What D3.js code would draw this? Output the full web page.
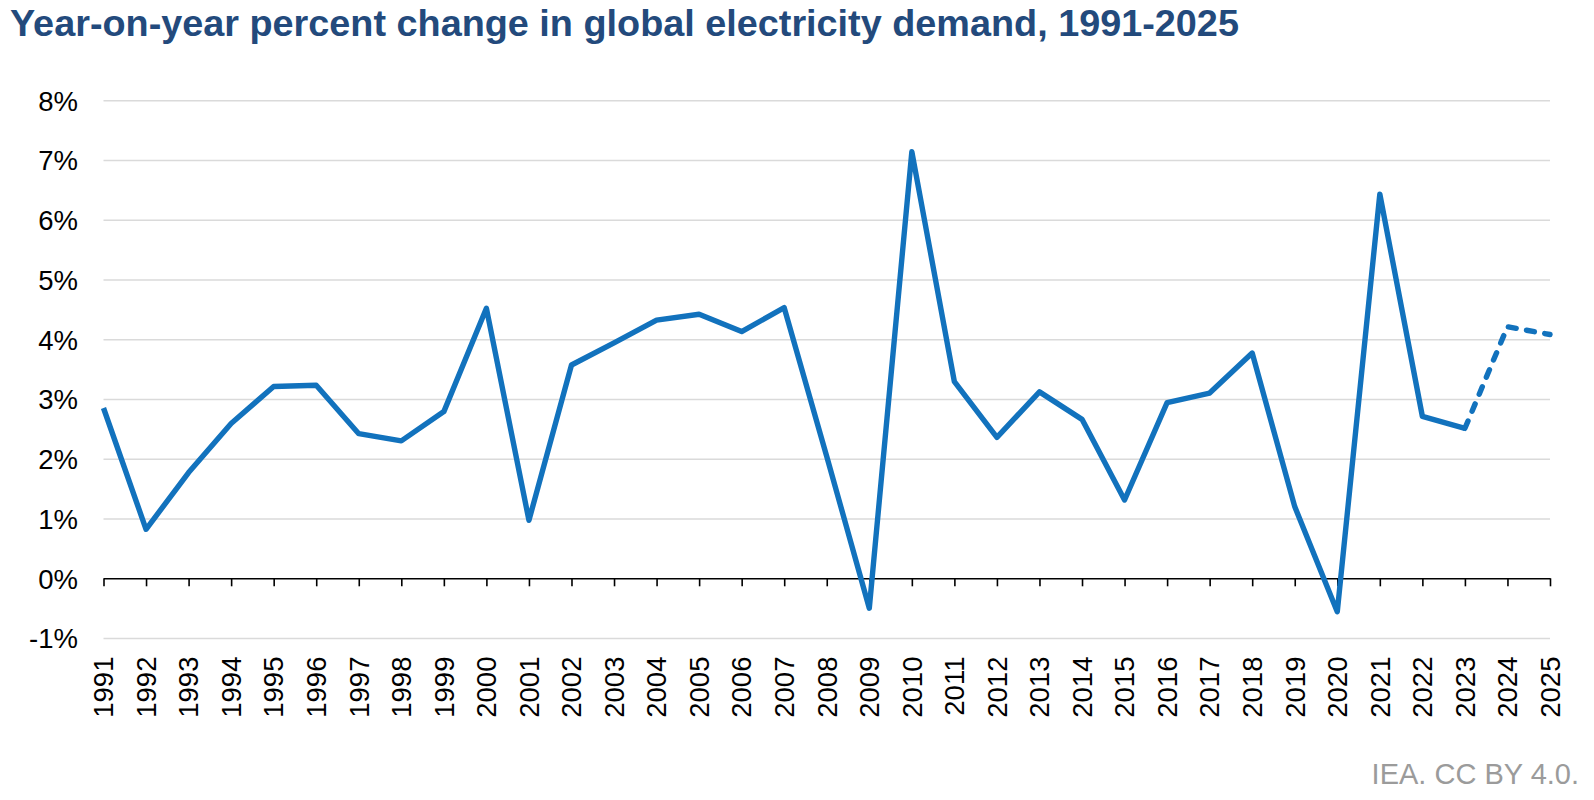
<!DOCTYPE html>
<html>
<head>
<meta charset="utf-8">
<script src="https://cdn.jsdelivr.net/npm/d3@7"></script>
<style>
  html, body { margin: 0; padding: 0; background: #fff; }
  svg { display: block; font-family: "Liberation Sans", Arial, sans-serif; }
</style>
</head>
<body>
<svg id="chart" width="1594" height="800"></svg>
<script>
// ---- data ----
const years = [1991,1992,1993,1994,1995,1996,1997,1998,1999,2000,2001,2002,2003,2004,2005,2006,2007,2008,2009,2010,2011,2012,2013,2014,2015,2016,2017,2018,2019,2020,2021,2022,2023,2024,2025];
const demandChange = [2.85,0.82,1.77,2.59,3.21,3.23,2.42,2.30,2.79,4.52,0.97,3.57,3.94,4.32,4.42,4.13,4.53,2.04,-0.50,7.14,3.29,2.36,3.12,2.66,1.31,2.94,3.10,3.77,1.20,-0.56,6.43,2.71,2.51,4.21,4.08];
const lastActualYear = 2023;
const yTicks = [-1,0,1,2,3,4,5,6,7,8];
const titleText = "Year-on-year percent change in global electricity demand, 1991-2025";
const sourceText = "IEA. CC BY 4.0.";

// ---- layout ----
const svg = d3.select("#chart");
const left = 103.5, right = 1550;
const yTop = 100.3, yBottom = 638.05;
const lineColor = "#1272bd";

const x = d3.scaleLinear().domain([d3.min(years), d3.max(years)]).range([left, right]);
const y = d3.scaleLinear().domain([-1, 8]).range([yBottom, yTop]);

const points = years.map((yr, i) => ({ year: yr, value: demandChange[i] }));
const actual = points.filter(d => d.year <= lastActualYear);
const forecast = points.filter(d => d.year >= lastActualYear);

// title
svg.append("text")
  .attr("x", 10).attr("y", 36)
  .attr("fill", "#234a7c")
  .attr("font-weight", "bold")
  .attr("font-size", 37.8)
  .text(titleText);

// gridlines (y axis)
const yAxis = d3.axisLeft(y)
  .tickValues(yTicks)
  .tickSize(-(right - left))
  .tickFormat(d => d + "%");
const gy = svg.append("g").attr("transform", `translate(${left},0)`).call(yAxis);
gy.select(".domain").remove();
gy.selectAll(".tick line")
  .attr("stroke", d => d === 0 ? "none" : "#dadada")
  .attr("stroke-width", 1.5);
gy.selectAll(".tick text")
  .attr("x", -25.5)
  .attr("dy", "0.355em")
  .attr("fill", "#000")
  .attr("font-size", 27.5)
  .attr("font-family", "Liberation Sans, Arial, sans-serif");

// x axis at zero (ticks only)
const xAxisZero = d3.axisBottom(x)
  .tickValues(years)
  .tickSize(8)
  .tickSizeOuter(0)
  .tickFormat("");
const gx0 = svg.append("g").attr("transform", `translate(0,${y(0)})`).call(xAxisZero);
gx0.select(".domain").attr("stroke", "#000").attr("stroke-width", 1.6);
gx0.selectAll(".tick line").attr("stroke", "#000").attr("stroke-width", 1.6);

// x labels below plot area
const xLabels = svg.append("g").attr("transform", `translate(0,${yBottom + 18.5})`);
xLabels.selectAll("text")
  .data(years)
  .join("text")
  .attr("transform", d => `translate(${x(d)},0) rotate(-90)`)
  .attr("text-anchor", "end")
  .attr("dy", "0.355em")
  .attr("font-size", 27.5)
  .attr("fill", "#000")
  .text(d => d);

// lines
const line = d3.line().x(d => x(d.year)).y(d => y(d.value));
svg.append("path")
  .datum(actual)
  .attr("d", line)
  .attr("fill", "none")
  .attr("stroke", lineColor)
  .attr("stroke-width", 5.4)
  .attr("stroke-linejoin", "round")
  .attr("stroke-linecap", "butt");
svg.append("path")
  .datum(forecast)
  .attr("d", line)
  .attr("fill", "none")
  .attr("stroke", lineColor)
  .attr("stroke-width", 5.4)
  .attr("stroke-linejoin", "round")
  .attr("stroke-linecap", "round")
  .attr("stroke-dasharray", "8,10.5");

// source
svg.append("text")
  .attr("x", 1579).attr("y", 784)
  .attr("text-anchor", "end")
  .attr("fill", "#9b9b9b")
  .attr("font-size", 29)
  .text(sourceText);
</script>
</body>
</html>
